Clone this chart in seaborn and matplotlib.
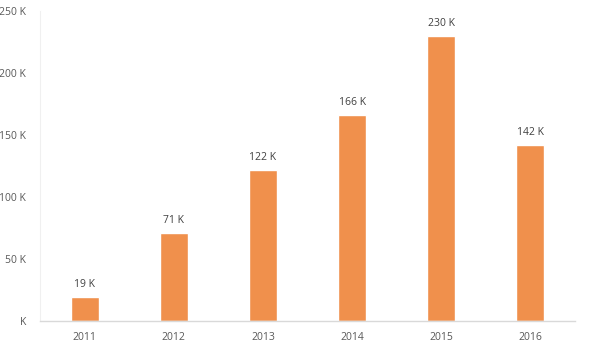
import matplotlib
matplotlib.use("Agg")
import matplotlib.pyplot as plt
import seaborn as sns
import pandas as pd

years = ["2011", "2012", "2013", "2014", "2015", "2016"]
values = [19000, 71000, 122000, 166000, 230000, 142000]
bar_labels = ["19 K", "71 K", "122 K", "166 K", "230 K", "142 K"]
y_ticks = [0, 50000, 100000, 150000, 200000, 250000]
y_tick_labels = ["K", "50 K", "100 K", "150 K", "200 K", "250 K"]

sns.set_style("white")
plt.rcParams['font.family'] = ['Open Sans', 'DejaVu Sans']

df = pd.DataFrame({"year": years, "value": values})

fig = plt.figure(figsize=(5.92, 3.51), dpi=100)
ax = fig.add_axes([40/592, 1-321/351, 535/592, 310/351])
sns.barplot(data=df, x="year", y="value", color="#F0904C", width=0.315,
            saturation=1, ax=ax)

ax.set_xlim(-0.5, 5.5)
ax.set_ylim(0, 250000)
ax.set_yticks(y_ticks)
ax.set_yticklabels(y_tick_labels)
ax.set_xlabel("")
ax.set_ylabel("")

for i, (v, lab) in enumerate(zip(values, bar_labels)):
    ax.annotate(lab, (i, v), xytext=(0, 5), textcoords="offset points",
                ha="center", va="bottom", fontsize=7.5, color="#404040")

for s in ["top", "right"]:
    ax.spines[s].set_visible(False)
ax.spines["left"].set_color("#F0F0F0")
ax.spines["bottom"].set_color("#D9D9D9")
ax.spines["left"].set_linewidth(0.8)
ax.spines["bottom"].set_linewidth(1.0)
ax.tick_params(axis="both", length=0, labelsize=7.5, labelcolor="#595959")
ax.tick_params(axis="x", pad=8)
ax.tick_params(axis="y", pad=10)

fig.savefig("out.png", dpi=100)
